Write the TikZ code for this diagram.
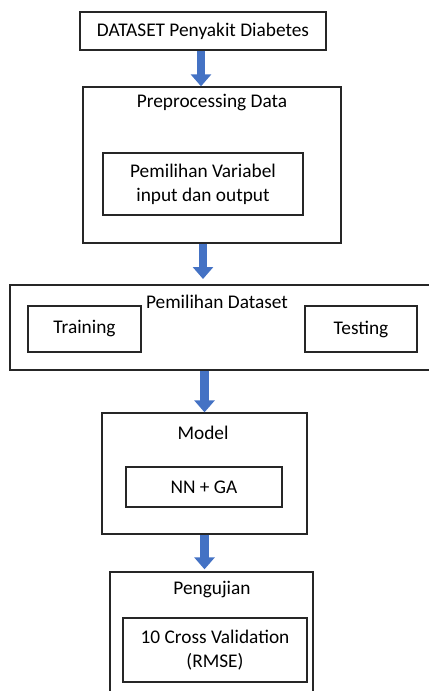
\documentclass[tikz,border=0pt]{standalone}
\usepackage{fontspec}
\setmainfont{Carlito}
\usetikzlibrary{arrows.meta}
\definecolor{arrowblue}{RGB}{68,114,196}

\begin{document}
\begin{tikzpicture}[x=0.75pt, y=-0.75pt,
  box/.style={draw=black!85, line width=1pt, inner sep=0pt, align=center, font=\fontsize{14.5}{18}\selectfont},
  title/.style={inner sep=0pt, font=\fontsize{14.5}{18}\selectfont},
  blockarrow/.style={arrowblue, line width=6.5pt, -{Triangle[width=15pt, length=9pt]}}]

\useasboundingbox (0,0) rectangle (428,691);

\node [box, minimum width=184.5pt, minimum height=28.5pt] (data) at (203,31) {DATASET Penyakit Diabetes};

\node [box, minimum width=193.5pt, minimum height=117pt] (prep) at (212,165) {};
\node [title] (preptitle) at (212,103) {Preprocessing Data};
\node [box, minimum width=150pt, minimum height=46.5pt] (var) at (203,184) {Pemilihan Variabel\\input dan output};

\node [box, minimum width=315.75pt, minimum height=63.75pt] (pilih) at (220.5,327.5) {};
\node [title] (pilihtitle) at (217,302) {Pemilihan Dataset};
\node [box, minimum width=84.75pt, minimum height=34.5pt] (train) at (84.5,329) {Training};
\node [box, minimum width=84pt, minimum height=34.5pt] (test) at (361,329) {Testing};

\node [box, minimum width=153.75pt, minimum height=90.75pt] (model) at (204.5,473.5) {};
\node [title] (modeltitle) at (203,433) {Model};
\node [box, minimum width=117pt, minimum height=30pt] (nn) at (204,487) {NN + GA};

\node [box, minimum width=152.25pt, minimum height=96pt] (uji) at (211.5,636) {};
\node [title] (ujititle) at (212,590) {Pengujian};
\node [box, minimum width=138pt, minimum height=48pt] (cv) at (215,650) {10 Cross Validation\\(RMSE)};

\begin{scope}[blockarrow]
\draw ([xshift=-1.5pt]data.south) -- ([xshift=-1.5pt]data.south |- prep.north); %data-prep
\draw (var.south |- prep.south) -- ([yshift=4pt]var.south |- pilih.north); %prep-pilih
\draw (model.north |- pilih.south) -- (model.north); %pilih-model
\draw (model.south) -- ([yshift=1.5pt]model.south |- uji.north); %model-uji
\end{scope}

\end{tikzpicture}
\end{document}
